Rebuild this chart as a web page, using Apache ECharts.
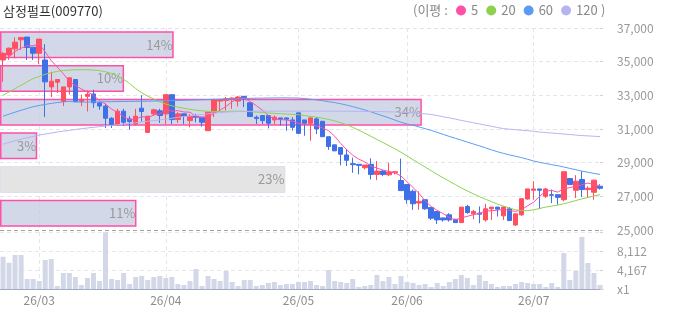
<!DOCTYPE html>
<html>
<head>
<meta charset="utf-8">
<script src="https://cdn.jsdelivr.net/npm/echarts@6/dist/echarts.min.js"></script>
<style>
  html, body { margin: 0; padding: 0; background: #fff; }
  #chart { width: 673px; height: 315px; }
</style>
</head>
<body>
<div id="chart"></div>
<script>
const title = '삼정펄프(009770)';

// trading days, yy/mm/dd
const dates = [
  '26/02/20','26/02/23','26/02/24','26/02/25','26/02/26','26/02/27',
  '26/03/03','26/03/04','26/03/05','26/03/06','26/03/09','26/03/10','26/03/11','26/03/12','26/03/13',
  '26/03/16','26/03/17','26/03/18','26/03/19','26/03/20','26/03/23','26/03/24','26/03/25','26/03/26',
  '26/03/27','26/03/30','26/03/31',
  '26/04/01','26/04/02','26/04/03','26/04/06','26/04/07','26/04/08','26/04/09','26/04/10','26/04/13',
  '26/04/14','26/04/15','26/04/16','26/04/17','26/04/20','26/04/21','26/04/22','26/04/23','26/04/24',
  '26/04/27','26/04/28','26/04/29','26/04/30',
  '26/05/04','26/05/06','26/05/07','26/05/08','26/05/11','26/05/12','26/05/13','26/05/14','26/05/15',
  '26/05/18','26/05/19','26/05/20','26/05/21','26/05/22','26/05/26','26/05/27','26/05/28','26/05/29',
  '26/06/01','26/06/02','26/06/04','26/06/05','26/06/08','26/06/09','26/06/10','26/06/11','26/06/12',
  '26/06/15','26/06/16','26/06/17','26/06/18','26/06/19','26/06/22','26/06/23','26/06/24','26/06/25',
  '26/06/26','26/06/29','26/06/30',
  '26/07/01','26/07/02','26/07/03','26/07/06','26/07/07','26/07/08','26/07/09','26/07/10','26/07/13',
  '26/07/14','26/07/15','26/07/16'
];

// [open, close, low, high]
const candles = [
  [35100,35500,33800,35550],[35400,35800,35100,35840],[35760,36160,35200,36440],[36300,36440,35700,36440],
  [36460,35840,35100,36460],[35860,35500,35100,35860],[35500,36340,34860,36340],[35100,33800,31720,36040],
  [33500,33840,32900,34400],[33780,33940,33140,33940],[32640,33500,32360,33500],[33500,34040,33040,34040],
  [33940,32640,32640,33940],[32640,32760,32360,33040],[32940,33060,32040,33300],[33080,32560,32260,33340],
  [32560,32360,32140,32600],[32360,31640,31060,32500],[31640,31260,31060,31700],[31260,32060,31200,32200],
  [32060,31400,31200,32200],[31600,31440,30960,31760],[31300,31760,31200,32200],[32240,32040,31440,33000],
  [30800,31760,30760,31760],[31900,32140,31800,32200],[32080,31800,31360,32200],[31900,33040,31300,33040],
  [33040,31560,31300,33040],[31560,31900,31360,32000],[31900,31760,31300,31900],[31500,31760,31100,31900],
  [31760,31700,31400,31900],[31700,31400,31140,31700],[30900,32000,30900,32000],[32000,32740,31700,32800],
  [32660,32740,32100,32760],[32700,32800,32100,32900],[32760,32840,32200,32860],[32660,32900,32340,32960],
  [32940,32860,32300,32960],[32560,31740,31740,32560],[31700,31620,31300,31800],[31800,31500,31300,31800],
  [31800,31340,31040,31800],[31540,31700,31300,31800],[31660,31580,31200,31660],[31660,31580,30900,31660],
  [31540,31100,30900,31700],[31960,30740,30740,31960],[31540,31340,30600,31540],[31340,31660,30300,31660],
  [31600,31000,30700,31700],[31460,30540,30540,31460],[30540,29960,29760,30540],[30060,29700,29700,30060],
  [29900,29500,28840,29900],[29460,29140,28800,29800],[28940,28880,28400,29300],[28900,28840,28300,28900],
  [28700,28860,28600,28860],[28900,28300,28000,29260],[28300,28500,27960,29100],[28500,28300,28200,28560],
  [28280,28440,28200,29000],[28400,28460,28300,28500],[27940,27340,27340,29240],[27700,26800,26560,27700],
  [27300,26560,26200,27400],[26600,26700,26200,27300],[26800,26260,26200,26800],[26340,25700,25600,26340],
  [26100,25600,25360,26100],[25720,25600,25500,25720],[25900,25600,25500,26000],[25640,25440,25440,25640],
  [25440,26360,25440,26360],[26400,26040,25960,26500],[25960,26100,25640,26200],[26000,25940,25400,26400],
  [25600,26260,25500,26560],[26260,26360,25600,26360],[26360,26240,25800,26360],[25840,26360,25600,26400],
  [26260,25560,25560,26360],[25300,25960,25240,25960],[25900,26860,25840,26900],[26840,27440,26800,27440],
  [27360,27440,26800,27900],[27440,27360,26240,27440],[27000,27440,26900,27500],[27100,27060,26600,27400],
  [27100,26940,26500,27100],[26800,28460,26700,28460],[28060,27700,27700,28060],[27360,27900,26900,28260],
  [28000,27400,26960,28500],[27400,27480,26900,27600],[27240,27960,26800,28000],[27600,27480,27400,27720]
];

const volumes = [
  6890,5610,7250,7250,2130,2130,1710,6190,6400,640,3410,3410,2560,850,2350,3410,1710,12100,2130,1920,
  3410,1070,2560,2770,1920,2560,2770,2350,2560,1070,850,1710,4270,640,2770,2130,1710,3840,1490,640,
  1920,1920,640,850,1280,1490,850,1070,1070,1490,1490,1710,850,640,4050,1710,1490,1280,2130,430,
  640,850,2990,1710,2560,1070,2770,1490,1280,850,1070,430,1280,640,1490,2130,2990,2350,850,2990,
  1710,1070,430,640,640,1070,1490,1280,1070,1070,430,1280,430,7680,1920,3840,11090,5550,3410,850
];

const ma5 = [
  35100,35300,35600,35800,35950,35950,36060,35580,35060,34680,34280,33820,33590,33380,33200,33010,32680,32480,32180,31980,
  31740,31560,31580,31740,31680,31830,31900,32160,32060,32090,32010,32000,31740,31700,31720,31920,32120,32340,32620,32800,
  32830,32630,32390,32120,31810,31580,31550,31540,31460,31340,31270,31280,31170,31060,30900,30570,30140,29770,29440,29210,
  29040,28800,28680,28560,28480,28400,28210,27870,27520,27170,26730,26400,26160,25970,25750,25590,25720,25810,25910,25980,
  26140,26140,26180,26230,26160,26100,26200,26440,26650,27010,27310,27350,27250,27450,27520,27610,27680,27790,27690,27640
];

const ma20 = [
  33000,33200,33400,33600,33800,34000,34120,34250,34350,34420,34480,34500,34520,34520,34520,34500,34470,34400,34300,34150,
  33950,33700,33400,33150,32950,32780,32620,32480,32380,32300,32230,32170,32120,32080,32050,32040,32040,32050,32060,32060,
  32050,32030,32000,31980,31950,31930,31910,31890,31870,31850,31800,31750,31700,31640,31570,31480,31370,31250,31100,30930,
  30750,30570,30380,30200,30010,29820,29620,29400,29180,28960,28740,28520,28300,28100,27900,27700,27500,27320,27150,26980,
  26830,26680,26540,26420,26300,26200,26150,26150,26200,26280,26360,26420,26480,26560,26650,26750,26850,26930,27020,27100
];

const ma60 = [
  31760,31880,32000,32110,32220,32320,32400,32460,32520,32570,32610,32640,32600,32600,32600,32610,32610,32620,32620,32630,
  32630,32640,32640,32650,32650,32660,32670,32680,32690,32700,32710,32720,32730,32740,32750,32760,32770,32780,32790,32800,
  32810,32820,32830,32835,32840,32845,32850,32850,32845,32840,32810,32770,32730,32680,32620,32570,32500,32420,32330,32230,
  32130,32020,31900,31780,31660,31530,31400,31300,31220,31120,31020,30920,30800,30680,30560,30450,30340,30220,30110,30000,
  29880,29760,29650,29550,29460,29380,29300,29200,29100,29020,28950,28880,28820,28740,28660,28580,28500,28430,28360,28300
];

const ma120 = [
  30100,30200,30300,30400,30480,30560,30640,30700,30760,30820,30870,30920,30970,31020,31060,31100,31140,31180,31210,31250,
  31290,31330,31370,31420,31460,31500,31540,31590,31640,31690,31740,31780,31820,31860,31900,31940,31970,32000,32020,32040,
  32045,32050,32055,32060,32060,32060,32060,32060,32060,32060,32060,32060,32060,32060,32060,32060,32060,32055,32050,32050,
  32045,32040,32035,32030,32020,32010,32000,31980,31960,31930,31900,31860,31800,31730,31660,31590,31510,31440,31370,31300,
  31230,31160,31090,31020,30990,30960,30930,30900,30860,30820,30790,30760,30730,30700,30670,30640,30610,30590,30570,30550
];

const maNames = ['5', '20', '60', '120'];
const maColors = ['#ff4fa6', '#8fd14f', '#5b9cf2', '#b6b4ef'];

// price band volume share (%), top band first
const bandTops = [37000, 35000, 33000, 31000, 29000, 27000];
const bandShare = [14, 10, 34, 3, 23, 11];

const volTickLabels = ['x1', '4,167', '8,112'];

const FONT = '"Noto Sans CJK KR", "Noto Sans", sans-serif';
const UP = '#ff4f60';
const DOWN = '#4070e8';

const monthStart = (idx) => idx > 0 && dates[idx].slice(0, 5) !== dates[idx - 1].slice(0, 5);

const lastClose = candles[candles.length - 1][1];
const currentBand = bandTops.findIndex(t => lastClose <= t && lastClose > t - 2000);

const chart = echarts.init(document.getElementById('chart'), null, { renderer: 'canvas' });

const vSplit = {
  show: true,
  interval: monthStart,
  alignWithLabel: true,
  lineStyle: { color: '#e6e6e6', type: [4, 3] }
};

chart.setOption({
  animation: false,
  textStyle: { fontFamily: FONT },
  title: {
    text: title,
    left: 3,
    top: 5,
    padding: 0,
    textStyle: { fontSize: 13, color: '#333', fontWeight: 'normal', fontFamily: FONT }
  },
  legend: {
    data: maNames,
    left: 456,
    top: 4,
    padding: 0,
    icon: 'circle',
    itemWidth: 10,
    itemHeight: 10,
    itemGap: 8,
    selectedMode: false,
    textStyle: { color: '#888', fontSize: 13, fontFamily: FONT }
  },
  graphic: [
    { type: 'text', left: 413, top: 4, style: { text: '(이평 :', fill: '#888', font: '13px ' + FONT } },
    { type: 'text', left: 601, top: 4, style: { text: ')', fill: '#888', font: '13px ' + FONT } }
  ],
  grid: [
    { left: 0, right: 70, top: 28, height: 202 },
    { left: 0, right: 70, top: 232, height: 57 },
    { left: 0, right: 70, top: 28, height: 202 }
  ],
  xAxis: [
    {
      type: 'category', gridIndex: 0, data: dates,
      axisLine: { show: false }, axisTick: { show: false }, axisLabel: { show: false },
      splitLine: vSplit
    },
    {
      type: 'category', gridIndex: 1, data: dates,
      axisLine: { lineStyle: { color: '#a3aac0' } },
      axisTick: { show: false },
      axisLabel: {
        interval: monthStart,
        formatter: v => v.slice(0, 5),
        color: '#8c8c8c', fontSize: 12, margin: 5
      },
      splitLine: vSplit
    },
    { type: 'value', gridIndex: 2, min: 0, max: 48.6, show: false }
  ],
  yAxis: [
    {
      type: 'value', gridIndex: 0, position: 'right',
      min: 25000, max: 37000, interval: 2000,
      axisLine: { show: false },
      axisTick: { show: true, inside: true, length: 3, lineStyle: { color: '#d0d0d0' } },
      axisLabel: { color: '#999', fontSize: 12, margin: 14, formatter: v => v.toLocaleString('en-US') },
      splitLine: {
        lineStyle: {
          color: ['#a0a0a0', '#e6e6e6', '#e6e6e6', '#e6e6e6', '#e6e6e6', '#e6e6e6', '#e2e2e2'],
          type: [4, 3]
        }
      }
    },
    {
      type: 'value', gridIndex: 1, position: 'right',
      min: 0, max: 12160, interval: 4056,
      axisLine: { show: false },
      axisTick: { show: true, inside: true, length: 3, lineStyle: { color: '#d0d0d0' } },
      axisLabel: {
        color: '#999', fontSize: 12, margin: 14,
        formatter: v => volTickLabels[Math.round(v / 4056)] || ''
      },
      splitLine: { lineStyle: { color: '#e8e8e8', type: [4, 3] } }
    },
    { type: 'category', gridIndex: 2, data: bandTops.map(String), inverse: true, show: false }
  ],
  series: [
    {
      name: 'band',
      type: 'bar',
      xAxisIndex: 2,
      yAxisIndex: 2,
      barWidth: 27,
      silent: true,
      z: 1,
      data: bandShare.map((v, i) => ({
        value: v,
        itemStyle: i === currentBand
          ? { color: '#e4e4e4', borderColor: '#dcdfec', borderWidth: 1 }
          : { color: 'rgba(196,203,224,0.75)', borderColor: '#ff4fa6', borderWidth: 1.5 }
      })),
      label: {
        show: true, position: 'insideRight', distance: 1,
        formatter: '{c}%', color: '#9a9a9a', fontSize: 13, fontFamily: FONT
      }
    },
    {
      name: 'price',
      type: 'candlestick',
      xAxisIndex: 0,
      yAxisIndex: 0,
      barWidth: 5,
      z: 3,
      data: candles,
      itemStyle: { color: UP, color0: DOWN, borderColor: UP, borderColor0: DOWN, borderWidth: 1 }
    },
    ...[ma5, ma20, ma60, ma120].map((d, k) => ({
      name: maNames[k],
      type: 'line',
      xAxisIndex: 0,
      yAxisIndex: 0,
      data: d,
      symbol: 'none',
      z: 4,
      color: maColors[k],
      lineStyle: { width: 1, color: maColors[k] }
    })),
    {
      name: 'volume',
      type: 'bar',
      xAxisIndex: 1,
      yAxisIndex: 1,
      barWidth: 5,
      data: volumes,
      itemStyle: { color: '#d3d8e8' }
    }
  ]
});
</script>
</body>
</html>
